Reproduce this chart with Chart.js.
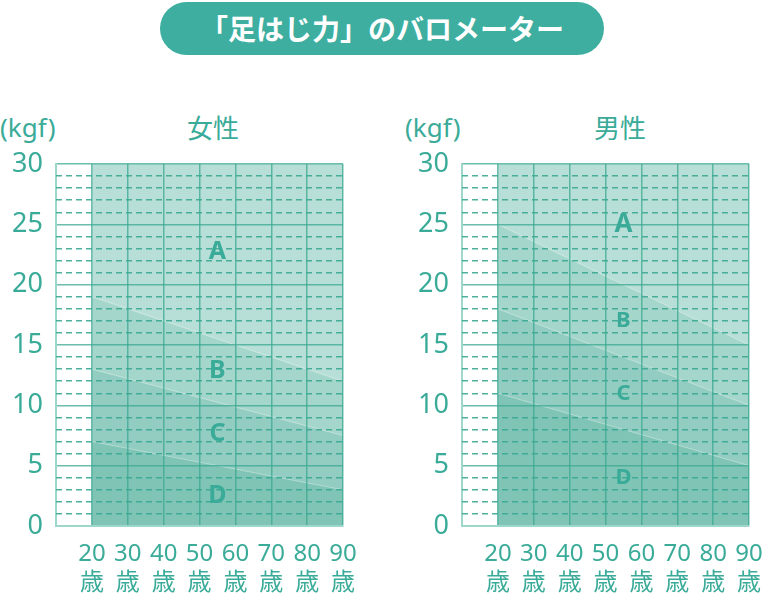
<!DOCTYPE html>
<html lang="ja">
<head>
<meta charset="utf-8">
<title>「足はじ力」のバロメーター</title>
<script src="https://cdn.jsdelivr.net/npm/chart.js@4.4.0/dist/chart.umd.min.js"></script>
<style>
  html, body { margin: 0; padding: 0; background: #fff; }
  body {
    width: 766px; height: 596px; position: relative; overflow: hidden;
    font-family: "Noto Sans", "Noto Sans CJK JP", sans-serif; color: #3aab98;
  }
  .pill {
    position: absolute; left: 160px; top: 2px; width: 444px; height: 53px;
    border-radius: 27px; background: #3dae9f; color: #fff;
    font: 700 28px/53px "Noto Sans CJK JP", sans-serif; text-align: center;
  }
  .unit, .sex { position: absolute; top: 112px; font-size: 26px; line-height: 30px; }
  .sex { width: 120px; text-align: center; font-family: "Noto Sans CJK JP", sans-serif; }
  canvas { position: absolute; top: 148px; }
</style>
</head>
<body>
<div class="pill">「足はじ力」のバロメーター</div>

<div class="unit" style="left:0">(kgf)</div>
<div class="sex" style="left:153px">女性</div>
<div class="unit" style="left:405px">(kgf)</div>
<div class="sex" style="left:560px">男性</div>

<canvas id="female" width="360" height="448" style="left:0"></canvas>
<canvas id="male" width="360" height="448" style="left:406px"></canvas>

<script>
// ===== Data =====
// band boundaries are straight lines from age 20 to age 90 (kgf at each end)
const AGE_EDGES = [20, 90];
const ageTicks  = [20, 30, 40, 50, 60, 70, 80, 90];
const ageLabels = ['20', '30', '40', '50', '60', '70', '80', '90'];
const AGE_UNIT  = '歳';
const bandNames = ['A', 'B', 'C', 'D'];

// upper edge of each band
const femaleA = [30, 30];
const femaleB = [19, 12];
const femaleC = [13, 7.5];
const femaleD = [7, 3];

const maleA = [30, 30];
const maleB = [25, 15];
const maleC = [18, 10];
const maleD = [11, 5];

// ===== Style =====
const TEAL       = '#3aab98';
const BAND_FILL  = ['#b8dfd7', '#a5d6cb', '#93cdc1', '#7fc4b5'];
const GRID_SOLID = 'rgba(58,168,146,0.75)';
const GRID_DASH  = 'rgba(58,168,146,0.9)';
const EDGE_LIGHT = '#9dd7cc';
const FONT       = '"Noto Sans", "Noto Sans CJK JP", sans-serif';

// letters A-D sit at mid-age, halfway between a band's upper and lower edge
const bandLetters = {
  id: 'bandLetters',
  afterDraw(chart, args, opts) {
    const { ctx, scales: { x, y } } = chart;
    const bands = opts.bands;
    const midAge = (AGE_EDGES[0] + AGE_EDGES[1]) / 2;
    ctx.save();
    ctx.fillStyle = TEAL;
    ctx.textAlign = 'center';
    ctx.textBaseline = 'middle';
    bands.forEach((band, i) => {
      const upper = (band[0] + band[1]) / 2;
      const next  = bands[i + 1];
      const lower = next ? (next[0] + next[1]) / 2 : 0;
      ctx.font = `700 ${opts.sizes[i]}px ${FONT}`;
      ctx.fillText(bandNames[i], x.getPixelForValue(midAge), y.getPixelForValue((upper + lower) / 2));
    });
    ctx.restore();
  }
};

function makeChart(id, bands, letterSizes) {
  // D first so it is painted last (on top)
  const datasets = bands.map((band, i) => ({
    label: bandNames[i],
    data: AGE_EDGES.map((age, k) => ({ x: age, y: band[k] })),
    backgroundColor: BAND_FILL[i],
    borderColor: i === 0 ? 'rgba(0,0,0,0)' : 'rgba(255,255,255,0.35)',
    borderWidth: i === 0 ? 0 : 1,
    pointRadius: 0,
    fill: 'origin',
  })).reverse();

  return new Chart(document.getElementById(id), {
    type: 'line',
    data: { datasets },
    plugins: [bandLetters],
    options: {
      responsive: false,
      animation: false,
      layout: { padding: 0 },
      plugins: {
        legend: { display: false },
        tooltip: { enabled: false },
        bandLetters: { bands, sizes: letterSizes },
      },
      scales: {
        x: {
          type: 'linear', min: 10, max: 90,
          afterFit: s => { s.height = 70; s.paddingLeft = 0; s.paddingRight = 17; },
          ticks: {
            stepSize: 10, padding: 14, color: TEAL, maxRotation: 0,
            font: { family: FONT, size: 24, lineHeight: 1.2 },
            callback: v => {
              const i = ageTicks.indexOf(v);
              return i < 0 ? '' : [ageLabels[i], AGE_UNIT];
            },
          },
          grid: {
            z: 1, drawTicks: false, lineWidth: 1.5,
            color: c => (c.tick && c.tick.value === 10 ? 'rgba(0,0,0,0)' : GRID_SOLID),
          },
          border: { z: 1, color: EDGE_LIGHT, width: 2 },
        },
        y: {
          min: 0, max: 30, position: 'left',
          afterFit: s => { s.width = 56; s.paddingTop = 16; s.paddingBottom = 0; },
          ticks: {
            stepSize: 5, padding: 13, color: TEAL,
            font: { family: FONT, size: 27, lineHeight: 1.2 },
          },
          grid: {
            z: 1, drawTicks: false, lineWidth: 1.5,
            color: c => (c.tick && c.tick.value === 0 ? 'rgba(0,0,0,0)' : GRID_SOLID),
          },
          border: { z: 1, color: EDGE_LIGHT, width: 2 },
        },
        y2: {
          min: 0, max: 30, position: 'left',
          afterFit: s => { s.width = 0; },
          ticks: { stepSize: 1, display: false },
          grid: {
            z: 1, drawTicks: false, lineWidth: 1.5,
            color: c => (c.tick && c.tick.value % 5 === 0 ? 'rgba(0,0,0,0)' : GRID_DASH),
          },
          border: { z: 1, display: false, dash: [6, 4] },
        },
      },
    },
  });
}

// ===== Init =====
makeChart('female', [femaleA, femaleB, femaleC, femaleD], [25, 25, 25, 25]);
makeChart('male',   [maleA, maleB, maleC, maleD],         [26, 22, 22, 22]);
</script>
</body>
</html>
